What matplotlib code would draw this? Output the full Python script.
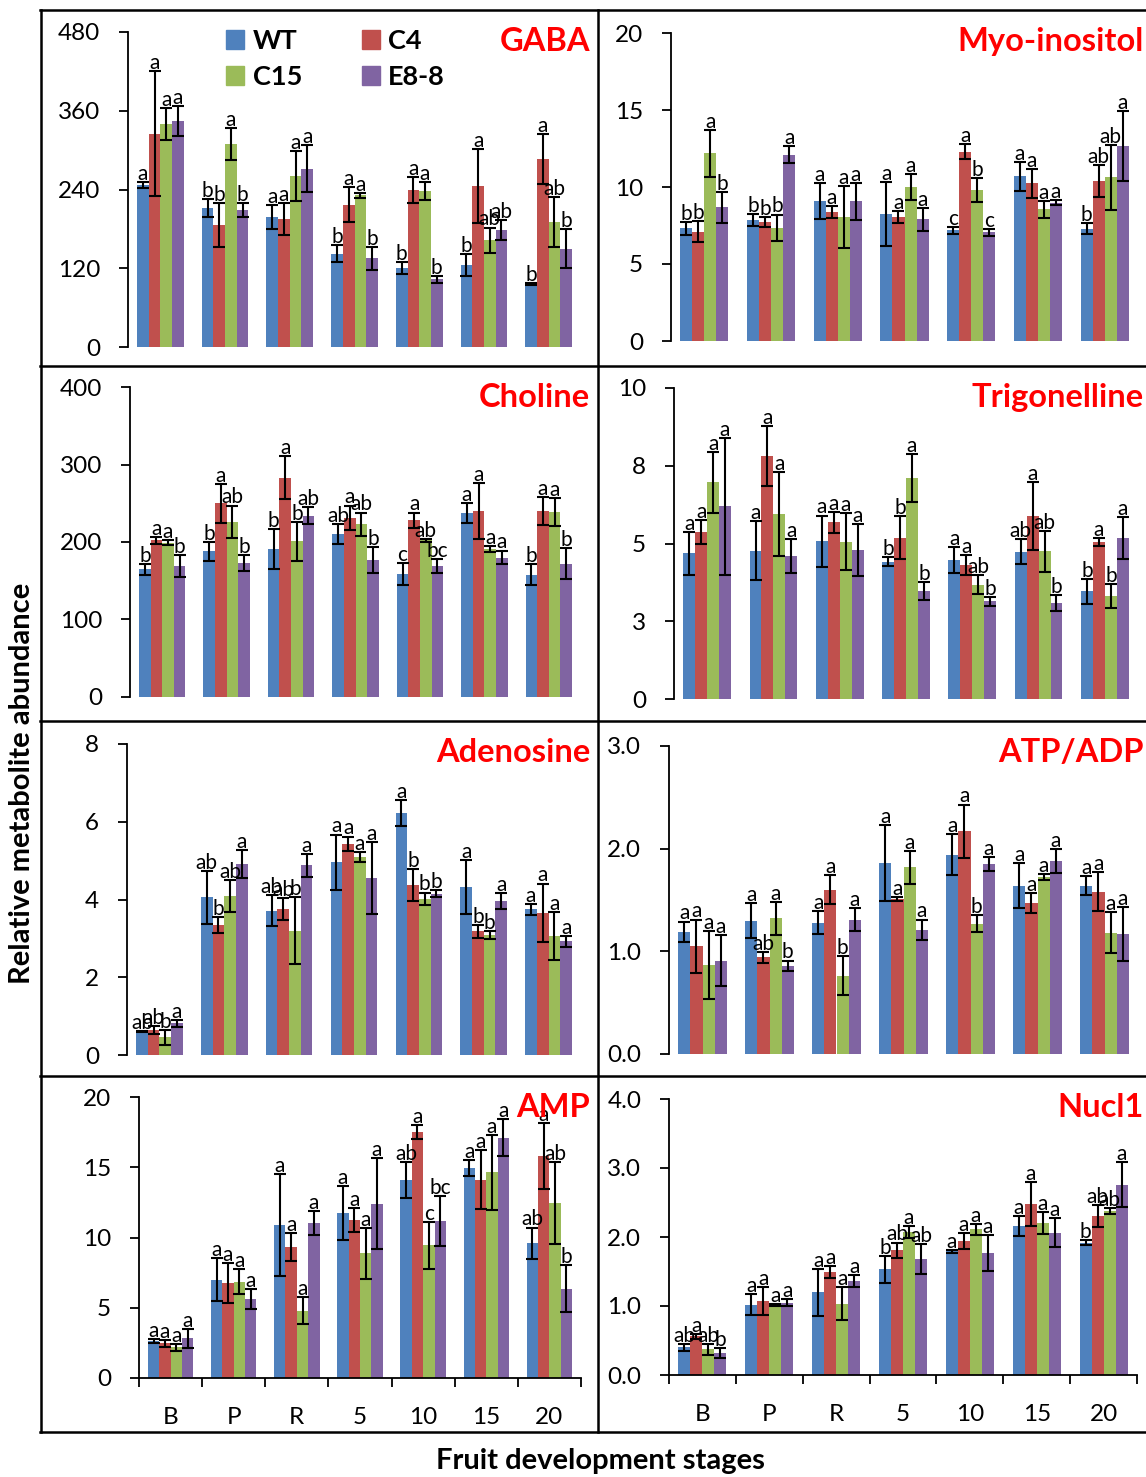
import matplotlib
matplotlib.use('Agg')
import matplotlib.pyplot as plt
from matplotlib.lines import Line2D
from matplotlib.patches import Patch
import numpy as np

plt.rcParams['font.family'] = ['Lato', 'DejaVu Sans']

stages = ['B', 'P', 'R', '5', '10', '15', '20']
genotypes = ['WT', 'C4', 'C15', 'E8-8']
colors = ['#4F81BD', '#C0504D', '#9BBB59', '#8064A2']

# rows = stages, columns = WT, C4, C15, E8-8
gaba_mean = [[247, 325, 340, 344], [212, 186, 309, 209], [198, 195, 261, 272], [142, 217, 231, 135],
             [120, 239, 238, 103], [125, 245, 163, 178], [96, 286, 190, 150]]
gaba_err = [[4, 95, 24, 23], [14, 33, 24, 11], [18, 25, 38, 36], [13, 27, 4, 18],
            [9, 20, 14, 5], [17, 56, 19, 15], [2, 38, 38, 30]]
gaba_sig = [['a', 'a', 'a', 'a'], ['b', 'b', 'a', 'b'], ['a', 'a', 'a', 'a'], ['b', 'a', 'a', 'b'],
            ['b', 'a', 'a', 'b'], ['b', 'a', 'ab', 'ab'], ['b', 'a', 'ab', 'b']]

myo_mean = [[7.31, 7.11, 12.19, 8.67], [7.85, 7.72, 7.35, 12.09], [9.08, 8.37, 8.04, 9.06], [8.26, 8.04, 10.01, 7.89],
            [7.2, 12.3, 9.79, 7.05], [10.7, 10.23, 8.54, 8.99], [7.29, 10.36, 10.62, 12.65]]
myo_err = [[0.41, 0.68, 1.51, 1.03], [0.38, 0.32, 0.86, 0.56], [1.16, 0.39, 2.03, 1.19], [2.09, 0.37, 0.86, 0.76],
           [0.22, 0.49, 0.77, 0.22], [0.95, 0.92, 0.56, 0.15], [0.37, 1.04, 2.1, 2.26]]
myo_sig = [['b', 'b', 'a', 'b'], ['b', 'b', 'b', 'a'], ['a', 'a', 'a', 'a'], ['a', 'a', 'a', 'a'],
           ['c', 'a', 'b', 'c'], ['a', 'a', 'a', 'a'], ['b', 'ab', 'ab', 'a']]

cho_mean = [[165, 202, 199, 169], [188, 250, 226, 173], [191, 283, 201, 234], [210, 231, 223, 177],
            [159, 228, 202, 169], [237, 240, 191, 180], [158, 240, 239, 172]]
cho_err = [[7, 4, 3, 14], [12, 25, 21, 10], [26, 28, 25, 11], [13, 16, 15, 17],
           [14, 10, 2, 9], [13, 36, 4, 9], [13, 18, 18, 20]]
cho_sig = [['b', 'a', 'a', 'b'], ['b', 'a', 'ab', 'b'], ['b', 'a', 'b', 'ab'], ['ab', 'a', 'ab', 'b'],
           ['c', 'a', 'ab', 'bc'], ['a', 'a', 'a', 'a'], ['b', 'a', 'a', 'b']]

trig_mean = [[4.68, 5.37, 6.97, 6.2], [4.77, 7.82, 5.95, 4.6], [5.07, 5.68, 5.06, 4.78], [4.42, 5.19, 7.1, 3.47],
             [4.47, 4.32, 3.68, 3.14], [4.74, 5.88, 4.75, 3.09], [3.46, 5.05, 3.3, 5.17]]
trig_err = [[0.69, 0.39, 0.98, 2.2], [0.94, 0.97, 1.34, 0.55], [0.83, 0.34, 0.92, 0.84], [0.14, 0.68, 0.78, 0.3],
            [0.42, 0.32, 0.31, 0.14], [0.41, 1.1, 0.66, 0.25], [0.41, 0.14, 0.39, 0.67]]
trig_sig = [['a', 'a', 'a', 'a'], ['a', 'a', 'a', 'a'], ['a', 'a', 'a', 'a'], ['b', 'b', 'a', 'b'],
            ['a', 'a', 'ab', 'b'], ['ab', 'a', 'ab', 'b'], ['b', 'a', 'b', 'a']]

ade_mean = [[0.6, 0.65, 0.46, 0.82], [4.06, 3.34, 4.08, 4.91], [3.71, 3.76, 3.2, 4.88], [4.96, 5.44, 5.09, 4.55],
            [6.23, 4.38, 4.02, 4.15], [4.32, 3.18, 3.09, 3.96], [3.75, 3.66, 3.06, 2.93]]
ade_err = [[0.02, 0.1, 0.19, 0.09], [0.68, 0.21, 0.41, 0.36], [0.4, 0.28, 0.87, 0.3], [0.71, 0.18, 0.12, 0.92],
           [0.33, 0.41, 0.16, 0.09], [0.7, 0.17, 0.1, 0.2], [0.14, 0.75, 0.62, 0.14]]
ade_sig = [['ab', 'ab', 'b', 'a'], ['ab', 'b', 'ab', 'a'], ['ab', 'ab', 'b', 'a'], ['a', 'a', 'a', 'a'],
           ['a', 'b', 'b', 'b'], ['a', 'b', 'b', 'a'], ['a', 'a', 'a', 'a']]

atp_mean = [[1.19, 1.05, 0.87, 0.91], [1.3, 0.94, 1.32, 0.86], [1.28, 1.6, 0.76, 1.31], [1.86, 1.51, 1.82, 1.21],
            [1.94, 2.17, 1.27, 1.85], [1.64, 1.47, 1.72, 1.88], [1.64, 1.58, 1.18, 1.17]]
atp_err = [[0.1, 0.26, 0.33, 0.25], [0.17, 0.05, 0.16, 0.05], [0.11, 0.14, 0.19, 0.11], [0.37, 0.02, 0.16, 0.1],
           [0.2, 0.26, 0.085, 0.07], [0.22, 0.1, 0.03, 0.12], [0.09, 0.19, 0.2, 0.26]]
atp_sig = [['a', 'a', 'a', 'a'], ['a', 'ab', 'a', 'b'], ['a', 'a', 'b', 'a'], ['a', 'a', 'a', 'a'],
           ['a', 'a', 'b', 'a'], ['a', 'a', 'a', 'a'], ['a', 'a', 'a', 'a']]

amp_mean = [[2.63, 2.46, 2.18, 2.82], [7.0, 6.75, 6.86, 5.63], [10.89, 9.33, 4.78, 11.03], [11.76, 11.24, 8.88, 12.4],
            [14.06, 17.49, 9.44, 11.15], [14.93, 14.1, 14.63, 17.11], [9.59, 15.79, 12.45, 6.37]]
amp_err = [[0.14, 0.24, 0.26, 0.67], [1.55, 1.44, 0.91, 0.73], [3.63, 0.97, 0.96, 0.85], [1.92, 0.86, 1.8, 3.25],
           [1.28, 0.49, 1.67, 1.78], [0.57, 2.1, 2.64, 1.33], [1.12, 2.34, 2.93, 1.64]]
amp_sig = [['a', 'a', 'a', 'a'], ['a', 'a', 'a', 'a'], ['a', 'a', 'a', 'a'], ['a', 'a', 'a', 'a'],
           ['ab', 'a', 'c', 'bc'], ['a', 'a', 'a', 'a'], ['ab', 'a', 'ab', 'b']]

nuc_mean = [[0.4, 0.56, 0.37, 0.32], [1.02, 1.07, 1.02, 1.05], [1.2, 1.49, 1.03, 1.36], [1.53, 1.81, 2.07, 1.68],
            [1.79, 1.94, 2.11, 1.77], [2.16, 2.48, 2.2, 2.06], [1.92, 2.3, 2.38, 2.76]]
nuc_err = [[0.053, 0.04, 0.08, 0.07], [0.15, 0.2, 0.015, 0.05], [0.34, 0.09, 0.24, 0.09], [0.19, 0.11, 0.09, 0.22],
           [0.02, 0.12, 0.08, 0.26], [0.14, 0.32, 0.16, 0.21], [0.03, 0.16, 0.04, 0.32]]
nuc_sig = [['ab', 'a', 'ab', 'b'], ['a', 'a', 'a', 'a'], ['a', 'a', 'a', 'a'], ['b', 'ab', 'a', 'ab'],
           ['a', 'a', 'a', 'a'], ['a', 'a', 'a', 'a'], ['b', 'ab', 'ab', 'a']]

W, H = 1146, 1477
fig = plt.figure(figsize=(W / 100, H / 100), dpi=100)

# name, data, ymax, ticks, tick labels, axes box in px (left, right, y of 0, y of max), panel top, right edge of title
panels = [
    ('GABA', gaba_mean, gaba_err, gaba_sig, 480, [0, 120, 240, 360, 480], None, (128, 581, 347, 32), 10, 590),
    ('Myo-inositol', myo_mean, myo_err, myo_sig, 20, [0, 5, 10, 15, 20], None, (671, 1138, 341, 33), 10, 1144),
    ('Choline', cho_mean, cho_err, cho_sig, 400, [0, 100, 200, 300, 400], None, (130, 581, 697, 387), 366, 590),
    ('Trigonelline', trig_mean, trig_err, trig_sig, 10, [0, 2.5, 5, 7.5, 10], ['0', '3', '5', '8', '10'],
     (674, 1138, 699, 388), 366, 1144),
    ('Adenosine', ade_mean, ade_err, ade_sig, 8, [0, 2, 4, 6, 8], None, (127, 581, 1055, 744), 721, 590),
    ('ATP/ADP', atp_mean, atp_err, atp_sig, 3, [0, 1, 2, 3], ['0.0', '1.0', '2.0', '3.0'],
     (669, 1138, 1054, 746), 721, 1144),
    ('AMP', amp_mean, amp_err, amp_sig, 20, [0, 5, 10, 15, 20], None, (139, 581, 1378, 1097), 1076, 590),
    ('Nucl1', nuc_mean, nuc_err, nuc_sig, 4, [0, 1, 2, 3, 4], ['0.0', '1.0', '2.0', '3.0', '4.0'],
     (669, 1137, 1375, 1099), 1076, 1144),
]

x = np.arange(len(stages))
bw = 0.18
offs = [-1.5 * bw, -0.5 * bw, 0.5 * bw, 1.5 * bw]

for k, (name, mean, err, sig, ymax, ticks, tlabels, box, ptop, tx) in enumerate(panels):
    left, right, y0, yt = box
    ax = fig.add_axes([left / W, 1 - y0 / H, (right - left) / W, (y0 - yt) / H])
    mean = np.array(mean)
    err = np.array(err)
    for j in range(4):
        ax.bar(x + offs[j], mean[:, j], width=bw, color=colors[j], zorder=2,
               yerr=err[:, j], error_kw=dict(ecolor='black', elinewidth=1.5, capsize=4.3, capthick=1.5))
        for i in range(len(stages)):
            ax.annotate(sig[i][j], xy=(x[i] + offs[j], mean[i, j] + err[i, j]), xytext=(0, 1.5),
                        textcoords='offset points', ha='center', va='baseline', fontsize=15,
                        annotation_clip=False, zorder=3)
    ax.set_xlim(-0.5, 6.5)
    ax.set_ylim(0, ymax)
    ax.set_yticks(ticks)
    if tlabels is not None:
        ax.set_yticklabels(tlabels)
    ax.tick_params(axis='y', direction='out', length=6.5, width=1.3, pad=13.5, labelsize=17.5)
    for s in ['top', 'right']:
        ax.spines[s].set_visible(False)
    ax.spines['left'].set_linewidth(1.3)
    if k >= 6:
        ax.spines['bottom'].set_linewidth(1.3)
        ax.set_xticks(x)
        ax.set_xticklabels(stages)
        ax.set_xticks(np.arange(-0.5, 7.0, 1.0), minor=True)
        ax.tick_params(axis='x', which='major', length=0, pad=21, labelsize=17.5)
        ax.tick_params(axis='x', which='minor', direction='out', length=6.5, width=1.3)
    else:
        ax.spines['bottom'].set_visible(False)
        ax.tick_params(axis='x', bottom=False, labelbottom=False)
    fig.text(tx / W, 1 - (ptop + 41) / H, name, color='#FF0000', fontsize=23.5, fontweight='bold',
             ha='right', va='baseline')
    if k == 0:
        handles = [Patch(color=c) for c in colors]
        ax.legend([handles[0], handles[2], handles[1], handles[3]],
                  [genotypes[0], genotypes[2], genotypes[1], genotypes[3]],
                  ncol=2, loc='upper left', bbox_to_anchor=(226 / W, 1 - 29 / H),
                  bbox_transform=fig.transFigure, frameon=False, prop=dict(weight='bold', size=19.5),
                  handlelength=0.68, handleheight=0.68, handletextpad=0.3, columnspacing=2.2,
                  labelspacing=0.45, borderpad=0, borderaxespad=0)

# panel frame
for yy in [10, 366, 721, 1076, 1432]:
    fig.add_artist(Line2D([40 / W, 1.0], [1 - yy / H, 1 - yy / H], color='black', lw=1.8,
                          transform=fig.transFigure))
for xx in [41, 598]:
    fig.add_artist(Line2D([xx / W, xx / W], [1 - 10 / H, 1 - 1432 / H], color='black', lw=1.8,
                          transform=fig.transFigure))

fig.text(22 / W, 1 - 783 / H, 'Relative metabolite abundance', rotation=90, ha='center', va='center',
         fontsize=21, fontweight='bold')
fig.text(600 / W, 1 - 1461 / H, 'Fruit development stages', ha='center', va='center',
         fontsize=21, fontweight='bold')

fig.savefig('out.png', dpi=100)
